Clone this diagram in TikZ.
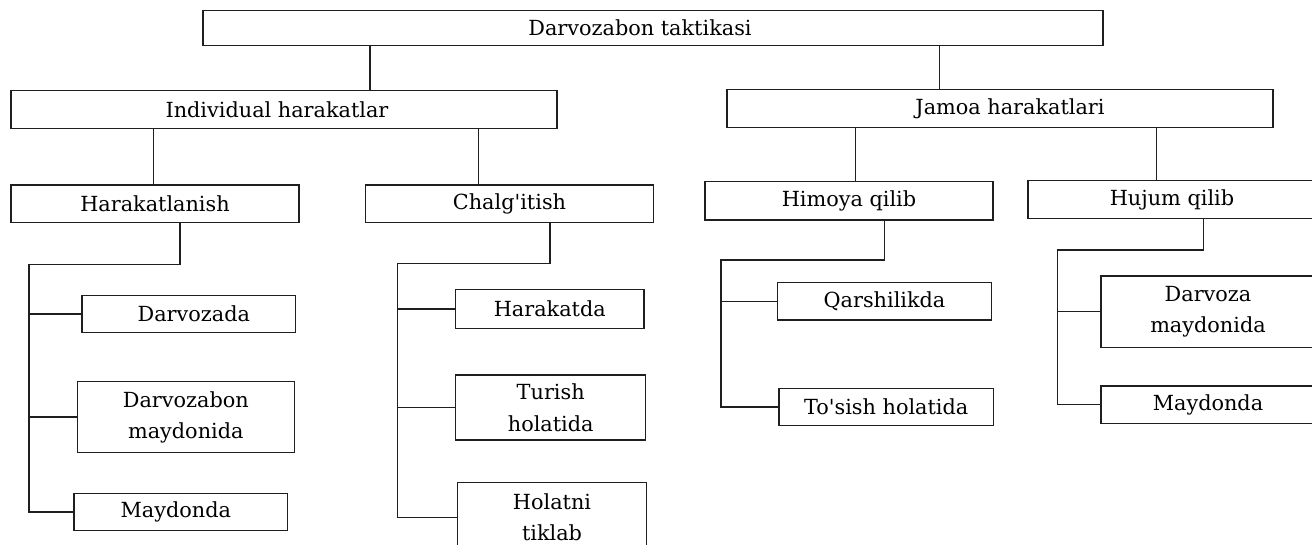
\documentclass[tikz,border=0pt]{standalone}
\usepackage{fontspec}
% plain family: no TeX ligature mapping, so ' stays a straight tick
\newfontfamily\chartfont{DejaVu Serif}
% move a one-line label sideways inside its box
\newcommand\nudge[1]{\hspace*{#1}}
\begin{document}
\begin{tikzpicture}[x=1pt,y=-1pt,
  box/.style={draw=black!88, line width=1.5pt, inner sep=0pt, align=center,
    font=\chartfont\fontsize{20.8}{31.5}\selectfont},
  link/.style={draw=black!88, line width=1.5pt}]
\useasboundingbox (0,0) rectangle (1312,545);
\clip (0,0) rectangle (1312,545);
\fill[white] (0,0) rectangle (1312,545);

% top level
\node[box, minimum width=900, minimum height=35] (top) at (653,28.2) {\nudge{-26pt}Darvozabon taktikasi};

% second level
\node[box, minimum width=546, minimum height=37.6] (ind) at (284,109.5) {\nudge{-14pt}Individual harakatlar};
\node[box, minimum width=546, minimum height=38] (jam) at (1000,108.3) {Jamoa harakatlari\nudge{-20pt}};

% third level
\node[box, minimum width=288, minimum height=37.7] (har) at (155,203.8) {Harakatlanish};
\node[box, minimum width=287.6, minimum height=37.7] (chal) at (509.5,203.8) {Chalg'itish};
\node[box, minimum width=288, minimum height=38.3] (him) at (849,200.8) {Himoya qilib};
\node[box, minimum width=288, minimum height=37.6] (huj) at (1172,199.5) {Hujum qilib};

% leaves under Harakatlanish
\node[box, minimum width=213.7, minimum height=37] (hdarv) at (188.8,314.2) {Darvozada\nudge{-10pt}};
\node[box, minimum width=217, minimum height=71] (hdmay) at (185.8,417.2) {Darvozabon\\maydonida};
\node[box, minimum width=213.7, minimum height=37.4] (hmay) at (180.8,512) {\nudge{-10pt}Maydonda};

% leaves under Chalg'itish
\node[box, minimum width=188.3, minimum height=39] (charak) at (549.8,308.8) {Harakatda};
\node[box, minimum width=190, minimum height=65] (cturish) at (550.7,407.5) {Turish\\holatida};
\node[box, minimum width=189.4, minimum height=70] (chol) at (552,517.3) {Holatni\\tiklab};

% leaves under Himoya qilib
\node[box, minimum width=214.4, minimum height=37.3] (qarsh) at (884.5,301.3) {Qarshilikda};
\node[box, minimum width=214.3, minimum height=37] (tosish) at (886.2,406.8) {To'sish holatida};

% leaves under Hujum qilib
\node[box, minimum width=214, minimum height=71.3] (udmay) at (1208,311.7) {Darvoza\\maydonida};
\node[box, minimum width=214, minimum height=37.3] (umay) at (1208,404.7) {Maydonda};

% drop points of the vertical links
\coordinate (xa) at (370,0);
\coordinate (xb) at (939.7,0);
\coordinate (xc) at (153.7,0);
\coordinate (xd) at (478.3,0);
\coordinate (xe) at (855.7,0);
\coordinate (xf) at (1156.3,0);

\draw[link] (xa |- top.south) -- (xa |- ind.north);
\draw[link] (xb |- top.south) -- (xb |- jam.north);
\draw[link] (xc |- ind.south) -- (xc |- har.north);
\draw[link] (xd |- ind.south) -- (xd |- chal.north);
\draw[link] (xe |- jam.south) -- (xe |- him.north);
\draw[link] (xf |- jam.south) -- (xf |- huj.north);

% Harakatlanish branch
\coordinate (ha) at (180,264.3);
\coordinate (hs) at (29,264.3);
\draw[link] (ha |- har.south) -- (ha) -- (hs) |- (hmay.west);
\draw[link] (hs |- hdarv.west) -- (hdarv.west);
\draw[link] (hs |- hdmay.west) -- (hdmay.west);

% Chalg'itish branch
\coordinate (ca) at (550,263.3);
\coordinate (cs) at (397.7,263.3);
\draw[link] (ca |- chal.south) -- (ca) -- (cs) |- (chol.west);
\draw[link] (cs |- charak.west) -- (charak.west);
\draw[link] (cs |- cturish.west) -- (cturish.west);

% Himoya qilib branch
\coordinate (ma) at (884.7,260);
\coordinate (ms) at (721,260);
\draw[link] (ma |- him.south) -- (ma) -- (ms) |- (tosish.west);
\draw[link] (ms |- qarsh.west) -- (qarsh.west);

% Hujum qilib branch
\coordinate (ua) at (1203.3,250);
\coordinate (us) at (1057.7,250);
\draw[link] (ua |- huj.south) -- (ua) -- (us) |- (umay.west);
\draw[link] (us |- udmay.west) -- (udmay.west);
\end{tikzpicture}
\end{document}
